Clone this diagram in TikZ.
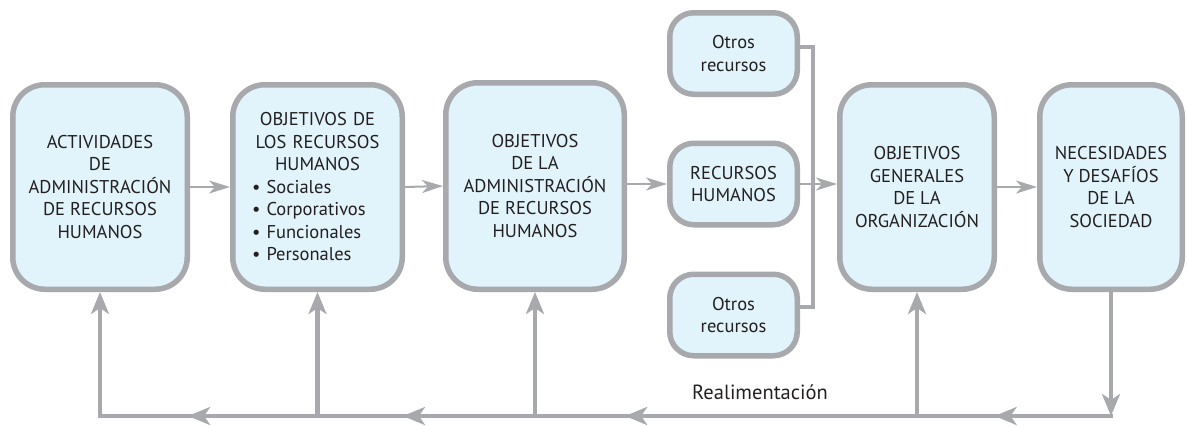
\documentclass[tikz,border=0pt]{standalone}
\usepackage{fontspec}
\setmainfont{PT Sans}
\usetikzlibrary{arrows.meta,decorations.markings}
\definecolor{bord}{HTML}{A7A9AC}
\definecolor{boxfill}{HTML}{E1F3FB}
\definecolor{txt}{HTML}{231F20}
\tikzset{
  bigbox/.style={draw=bord, fill=boxfill, line width=5.5pt, rounded corners=32pt,
    rectangle, inner sep=0pt, align=center, text=txt,
    font=\fontsize{18.5}{22.5}\selectfont},
  smallbox/.style={bigbox, rounded corners=24pt, minimum width=127.5pt, minimum height=81.5pt},
  thinarr/.style={draw=bord, line width=2pt, -{Stealth[length=21pt,width=13pt,inset=6pt]}},
  fb/.style={draw=bord, line width=4.5pt, line cap=rect},
  fbtip/.style={-{Stealth[length=22pt,width=18pt,inset=6pt]}},
  brk/.style={draw=bord, line width=4pt},
  midarr/.style={postaction={decorate}, decoration={markings,
    mark=at position #1 with {\arrow{Stealth[length=22pt,width=18pt,inset=6pt]}}}}
}
\begin{document}
\begin{tikzpicture}[x=1pt,y=-1pt]
\useasboundingbox (0,0) rectangle (1187,426);
% main boxes
\node[bigbox, minimum width=174.5pt, minimum height=204.5pt] (b1) at (100,187)
  {ACTIVIDADES\\DE\\ADMINISTRACIÓN\\DE RECURSOS\\HUMANOS};
\node[bigbox, minimum width=169.5pt, minimum height=204.5pt, text width=160pt] (b2) at (317.5,187)
  {OBJETIVOS DE\\LOS RECURSOS\\HUMANOS\\
   \makebox[160pt][l]{\hspace{14.5pt}• Sociales}\\
   \makebox[160pt][l]{\hspace{14.5pt}• Corporativos}\\
   \makebox[160pt][l]{\hspace{14.5pt}• Funcionales}\\
   \makebox[160pt][l]{\hspace{14.5pt}• Personales}};
\node[bigbox, minimum width=178.5pt, minimum height=206.5pt] (b3) at (535,186)
  {OBJETIVOS\\DE LA\\ADMINISTRACIÓN\\DE RECURSOS\\HUMANOS};
\node[smallbox] (o1) at (733.5,53.5) {Otros\\recursos};
\node[smallbox] (rh) at (733.5,184) {RECURSOS\\HUMANOS};
\node[smallbox] (o3) at (733.5,315) {Otros\\recursos};
\node[bigbox, minimum width=154.5pt, minimum height=204.5pt] (b4) at (917,187)
  {OBJETIVOS\\GENERALES\\DE LA\\ORGANIZACIÓN};
\node[bigbox, minimum width=142.5pt, minimum height=204.5pt] (b5) at (1111,187)
  {NECESIDADES\\Y DESAFÍOS\\DE LA\\SOCIEDAD};
% main arrows
\draw[thinarr] (b1.east) -- (b2.west);
\draw[thinarr] (b2.east) -- (b3.west);
\draw[thinarr] (b3.east |- rh.west) -- (rh.west);
\draw[thinarr] (rh.east) -- (b4.west |- rh.east);
\draw[thinarr] (b4.east) -- (b5.west);
% bracket
\coordinate (bx) at (813,0);
\coordinate (t1) at ([yshift=6.5pt]o1.east);
\coordinate (t3) at ([yshift=8pt]o3.east);
\draw[brk] (t1) -- (t1 -| bx) -- (t3 -| bx) -- (t3);
% feedback
\coordinate (f1) at (b1.south |- 0,416);
\coordinate (f2) at (b2.south |- 0,416);
\coordinate (f3) at (b3.south |- 0,416);
\coordinate (f4) at (b4.south |- 0,416);
\coordinate (f5) at (b5.south |- 0,416);
\draw[fb, midarr=0.60] (f5) -- (f4);
\draw[fb, midarr=0.764] (f4) -- (f3);
\draw[fb, midarr=0.607] (f3) -- (f2);
\draw[fb, midarr=0.595] (f2) -- (f1);
\draw[fb, line cap=butt, fbtip] (b5.south) -- (f5);
\draw[fb, line cap=butt, fbtip] (f1) -- (b1.south);
\draw[fb, line cap=butt, fbtip] (f2) -- (b2.south);
\draw[fb, line cap=butt, fbtip] (f3) -- (b3.south);
\draw[fb, line cap=butt, fbtip] (f4) -- (b4.south);
\node[text=txt, font=\fontsize{20.5}{24}\selectfont] (lab) at (760,392) {Realimentación};
\end{tikzpicture}
\end{document}
